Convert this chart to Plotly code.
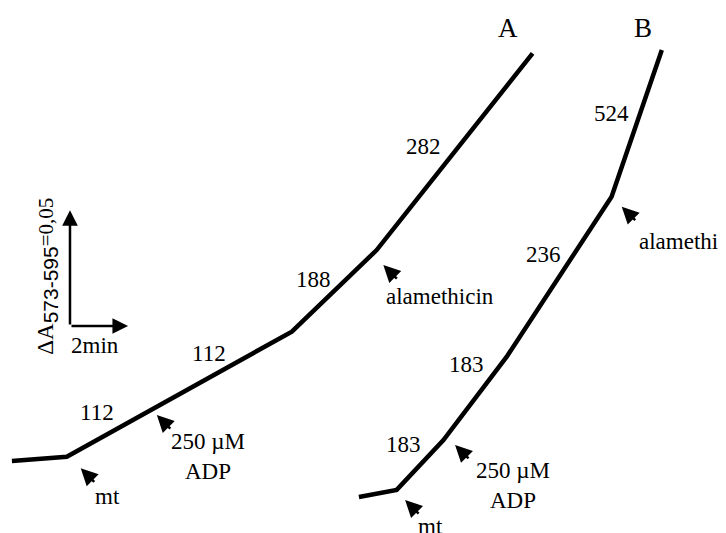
import plotly.graph_objects as go

# Trace A: time (min) vs absorbance change
a_time = [0.41, 2.30, 10.05, 12.97, 18.34]
a_abs = [0.0311, 0.0329, 0.0869, 0.1221, 0.2070]
# Trace B
b_time = [12.36, 13.66, 15.27, 17.45, 21.06, 22.79]
b_abs = [0.0155, 0.0186, 0.0401, 0.0761, 0.1451, 0.2084]

# Rate labels (text, t, A)
rate_labels = ["112", "112", "188", "282", "183", "183", "236", "524"]
rate_t = [3.35, 7.21, 10.79, 14.58, 13.89, 16.05, 18.71, 21.06]
rate_a = [0.0519, 0.0775, 0.1092, 0.1667, 0.0380, 0.0725, 0.1200, 0.1811]

# Additions: arrow tips and label positions
add_labels = ["mt", "250 µM<br>ADP", "alamethicin", "mt", "250 µM<br>ADP", "alamethicin"]
add_tip_t = [2.78, 5.40, 13.20, 13.95, 15.67, 21.41]
add_tip_a = [0.0279, 0.0509, 0.1156, 0.0142, 0.0380, 0.1408]
add_txt_t = [3.69, 7.16, 15.15, 14.81, 17.68, 21.93]
add_txt_a = [0.0157, 0.0330, 0.1020, 0.0027, 0.0204, 0.1257]
add_anchor = ["center", "center", "center", "center", "center", "left"]

# Trace names
trace_names = ["A", "B"]
trace_name_t = [17.49, 22.14]
trace_name_a = [0.2179, 0.2179]

# Scale bar
scale_origin = (2.41, 0.0893)
scale_dt = 2.0     # min
scale_da = 0.05    # ΔA

FONT = "Liberation Serif, Times New Roman, serif"

# page has an 8px body margin: size the figure and shift ranges to compensate
PX_PER_MIN = 29.04
PX_PER_UNIT = 2317.4
W, H, PAD = 718, 525, 8
x0 = PAD / PX_PER_MIN
x1 = x0 + W / PX_PER_MIN
y1 = H / PX_PER_UNIT
y0 = 0.0

fig = go.Figure()
for t, a in [(a_time, a_abs), (b_time, b_abs)]:
    fig.add_trace(go.Scatter(x=t, y=a, mode="lines",
                             line=dict(color="black", width=4.5),
                             showlegend=False, hoverinfo="skip"))

ann = []
for txt, x, y in zip(rate_labels, rate_t, rate_a):
    ann.append(dict(x=x, y=y, text=txt, showarrow=False,
                    font=dict(size=23, color="black", family=FONT)))

for txt, tx, ta, lx, la, anc in zip(add_labels, add_tip_t, add_tip_a,
                                     add_txt_t, add_txt_a, add_anchor):
    ann.append(dict(x=tx, y=ta, ax=15, ay=15, text="", showarrow=True,
                    arrowhead=2, arrowsize=1.35, arrowwidth=2.5,
                    arrowcolor="black", standoff=0))
    ann.append(dict(x=lx, y=la, text=txt, showarrow=False, xanchor=anc,
                    font=dict(size=23, color="black", family=FONT)))

for txt, x, y in zip(trace_names, trace_name_t, trace_name_a):
    ann.append(dict(x=x, y=y, text=txt, showarrow=False,
                    font=dict(size=27, color="black", family=FONT)))

ox, oy = scale_origin
ann.append(dict(x=ox, y=oy + scale_da, ax=ox, ay=oy, axref="x", ayref="y",
                text="", showarrow=True, arrowhead=2, arrowsize=1.25,
                arrowwidth=2.5, arrowcolor="black", standoff=0))
ann.append(dict(x=ox + scale_dt, y=oy, ax=ox, ay=oy, axref="x", ayref="y",
                text="", showarrow=True, arrowhead=2, arrowsize=1.25,
                arrowwidth=2.5, arrowcolor="black", standoff=0))
ann.append(dict(x=ox + scale_dt / 2 - 0.14, y=oy - 0.0082, text="2min",
                showarrow=False, font=dict(size=23, color="black", family=FONT)))
ann.append(dict(x=ox - 0.80, y=oy + 0.0216,
                text=("ΔA<sub><span style='font-family:Liberation Sans;font-size:21px'>"
                      "573-595</span></sub>"
                      "<span style='font-size:21px'>=0,05</span>"),
                textangle=-90, showarrow=False,
                font=dict(size=23, color="black", family=FONT)))

fig.update_layout(
    width=W, height=H,
    margin=dict(l=0, r=0, t=0, b=0),
    paper_bgcolor="white", plot_bgcolor="white",
    xaxis=dict(range=[x0, x1], visible=False, fixedrange=True),
    yaxis=dict(range=[y0, y1], visible=False, fixedrange=True),
    annotations=ann,
)

fig.write_html("out.html")
